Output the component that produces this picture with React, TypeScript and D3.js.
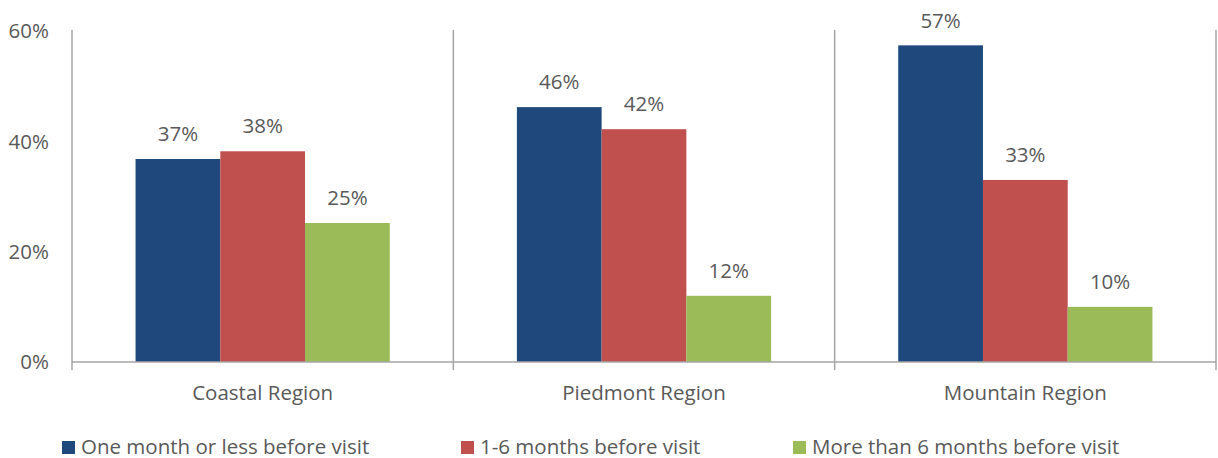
import React from "react";
import * as d3 from "d3";

const categories = ["Coastal Region", "Piedmont Region", "Mountain Region"];
const seriesNames = [
  "One month or less before visit",
  "1-6 months before visit",
  "More than 6 months before visit",
];
const oneMonth = [36.8, 46.2, 57.4];
const oneToSix = [38.2, 42.2, 33.0];
const moreThanSix = [25.2, 12.0, 10.0];
const labelsOne = ["37%", "46%", "57%"];
const labelsSix = ["38%", "42%", "33%"];
const labelsMore = ["25%", "12%", "10%"];
const yTicks = [0, 20, 40, 60];

const colors = ["#1F497D", "#C0504D", "#9BBB59"];
const textColor = "#595959";
const axisColor = "#A6A6A6";
const font = "'Open Sans', sans-serif";
const fs = 20.5;

export default function App() {
  const W = 1218, H = 458;
  const left = 72, right = 1216, top = 31, bottom = 362;
  const x = d3.scaleBand<string>().domain(categories).range([left, right]).paddingInner(0).paddingOuter(0);
  const y = d3.scaleLinear().domain([0, 60]).range([bottom, top]);
  const inner = d3.scaleBand<number>().domain([0, 1, 2]).range([0, x.bandwidth()]).paddingOuter(0.75).paddingInner(0);
  const series = [oneMonth, oneToSix, moreThanSix];
  const labels = [labelsOne, labelsSix, labelsMore];
  const boundaries = [left, ...categories.map((c) => (x(c) as number) + x.bandwidth())];
  const legendX = [62, 461, 793];

  return (
    <svg width={W} height={H} style={{ position: "absolute", left: 0, top: 0, fontFamily: font }}>
      <rect width={W} height={H} fill="#fff" />
      {boundaries.map((b, i) => (
        <line key={i} x1={b} x2={b} y1={top - 1} y2={bottom + 8} stroke={axisColor} strokeWidth={1.5} />
      ))}
      {yTicks.map((t) => (
        <text key={t} x={49} y={y(t)} dy="0.35em" textAnchor="end" fontSize={fs} fill={textColor}>
          {t}%
        </text>
      ))}
      {categories.map((c, ci) =>
        series.map((s, si) => {
          const bx = (x(c) as number) + (inner(si) as number);
          const bw = inner.bandwidth();
          return (
            <g key={c + si}>
              <rect x={bx} y={y(s[ci])} width={bw} height={bottom - y(s[ci])} fill={colors[si]} />
              <text x={bx + bw / 2} y={y(s[ci]) - 25} dy="0.35em" textAnchor="middle" fontSize={fs} fill={textColor}>
                {labels[si][ci]}
              </text>
            </g>
          );
        })
      )}
      <line x1={left} x2={right} y1={bottom} y2={bottom} stroke={axisColor} strokeWidth={1.5} />
      {categories.map((c) => (
        <text key={c} x={(x(c) as number) + x.bandwidth() / 2} y={393} dy="0.35em" textAnchor="middle" fontSize={fs} fill={textColor}>
          {c}
        </text>
      ))}
      {seriesNames.map((n, i) => (
        <g key={n}>
          <rect x={legendX[i]} y={441} width={13} height={13} fill={colors[i]} />
          <text x={legendX[i] + 19} y={447} dy="0.35em" fontSize={fs} fill={textColor}>
            {n}
          </text>
        </g>
      ))}
    </svg>
  );
}
